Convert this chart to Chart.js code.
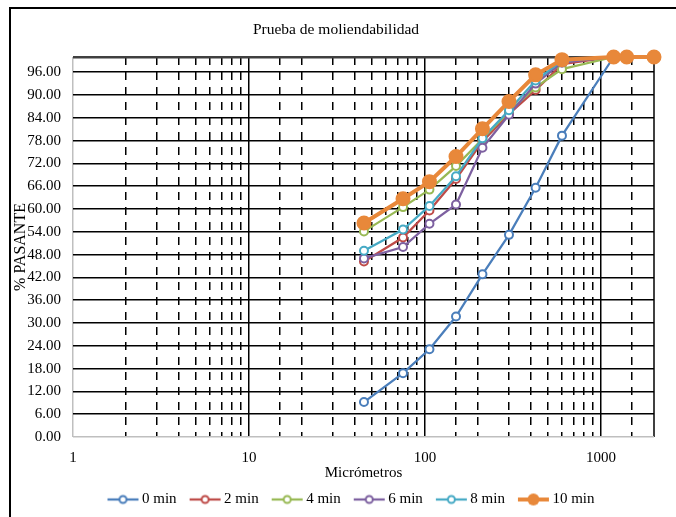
<!DOCTYPE html>
<html>
<head>
<meta charset="utf-8">
<script src="https://cdn.jsdelivr.net/npm/chart.js@4"></script>
<style>
  body { margin: 0; background: #fff; }
  #wrap { width: 676px; height: 517px; }
</style>
</head>
<body>
<div id="wrap"><canvas id="grafico" width="676" height="517"></canvas></div>
<script>
// tamaños de malla (micrómetros) y % pasante por tiempo de molienda
const micrones = [45, 75, 106, 150, 212, 300, 425, 600, 1180, 1400, 2000];
const min0  = [9.2, 16.8, 23.1, 31.7, 42.8, 53.2, 65.6, 79.3, 100, 100, 100];
const min2  = [46.2, 52.5, 59.6, 67.9, 77.8, 85.0, 91.3, 98.1, 100, 100, 100];
const min4  = [54.1, 60.5, 65.1, 71.3, 78.4, 85.6, 92.0, 96.8, 100, 100, 100];
const min6  = [47.0, 50.0, 56.1, 61.2, 76.1, 84.8, 93.0, 98.5, 100, 100, 100];
const min8  = [49.0, 54.6, 60.8, 68.6, 78.6, 86.0, 93.8, 99.0, 100, 100, 100];
const min10 = [56.3, 62.7, 67.2, 73.8, 81.1, 88.3, 95.3, 99.3, 100, 100, 100];
const series = ['0 min', '2 min', '4 min', '6 min', '8 min', '10 min'];
const yTicks = [0, 6, 12, 18, 24, 30, 36, 42, 48, 54, 60, 66, 72, 78, 84, 90, 96];

const valores = [min0, min2, min4, min6, min8, min10];
const colores = ['#4A7EBB', '#BE4B48', '#98B954', '#7D60A0', '#46AAC5', '#E8883A'];
const fuente = 'Liberation Serif, Times New Roman, serif';

// símbolo de leyenda: línea con marcador, corrido a la derecha para pegarlo al texto
function simbolo(color, grueso) {
  const c = document.createElement('canvas');
  c.width = 44; c.height = 16;
  const g = c.getContext('2d');
  const x0 = 11, x1 = 42, xm = (x0 + x1) / 2;
  g.strokeStyle = color;
  g.lineWidth = grueso ? 4 : 2.25;
  g.beginPath(); g.moveTo(x0, 8); g.lineTo(x1, 8); g.stroke();
  g.beginPath(); g.arc(xm, 8, grueso ? 6 : 3.5, 0, Math.PI * 2);
  if (grueso) { g.fillStyle = color; g.fill(); }
  else { g.fillStyle = '#fff'; g.fill(); g.lineWidth = 2; g.stroke(); }
  return c;
}

const esDecada = v => Math.abs(Math.log10(v) - Math.round(Math.log10(v))) < 1e-9;

const datasets = series.map((nombre, i) => {
  const grueso = i === 5;
  return {
    label: nombre,
    data: micrones.map((x, j) => ({ x: x, y: valores[i][j] })),
    borderColor: colores[i],
    backgroundColor: grueso ? colores[i] : '#fff',
    pointBorderColor: colores[i],
    pointBackgroundColor: grueso ? colores[i] : '#fff',
    borderWidth: grueso ? 4 : 2.25,
    pointRadius: grueso ? 6.5 : 4,
    pointBorderWidth: 2,
    pointStyle: 'circle',
    tension: 0,
    clip: false,
    order: 5 - i,
    legendSymbol: simbolo(colores[i], grueso)
  };
});

const extras = {
  id: 'extras',
  afterLayout(chart) {
    // centrar título y leyenda como en la hoja original
    chart.titleBlock.right = 672;
    chart.legend.left = 43;
  },
  beforeDraw(chart) {
    const g = chart.ctx;
    g.save();
    g.fillStyle = '#fff';
    g.fillRect(0, 0, chart.width, chart.height);
    g.strokeStyle = '#000';
    g.lineWidth = 2;
    g.beginPath();
    g.moveTo(10, chart.height); g.lineTo(10, 8); g.lineTo(chart.width, 8);
    g.stroke();
    g.restore();
  },
  afterDraw(chart) {
    const g = chart.ctx;
    g.save();
    g.translate(21, 247);
    g.rotate(-Math.PI / 2);
    g.font = '16px ' + fuente;
    g.fillStyle = '#000';
    g.textAlign = 'center';
    g.textBaseline = 'middle';
    g.fillText('% PASANTE', 0, 0);
    g.restore();
  }
};

new Chart(document.getElementById('grafico'), {
  type: 'line',
  data: { datasets: datasets },
  plugins: [extras],
  options: {
    responsive: false,
    animation: false,
    layout: { padding: { left: 0, right: 22, top: 0, bottom: 0 } },
    plugins: {
      title: {
        display: true,
        text: 'Prueba de moliendabilidad',
        color: '#000',
        font: { family: fuente, size: 15.5, weight: 'normal' },
        padding: { top: 21, bottom: 17.4 }
      },
      legend: {
        position: 'bottom',
        labels: {
          color: '#000',
          font: { family: fuente, size: 15 },
          usePointStyle: true,
          pointStyleWidth: 32,
          padding: 8,
          sort: (a, b) => a.datasetIndex - b.datasetIndex,
          generateLabels: chart => chart.data.datasets.map((ds, i) => ({
            text: ds.label,
            datasetIndex: i,
            pointStyle: ds.legendSymbol,
            fillStyle: ds.borderColor,
            strokeStyle: ds.borderColor,
            fontColor: '#000',
            lineWidth: 0,
            hidden: false
          }))
        }
      },
      tooltip: { enabled: false }
    },
    scales: {
      x: {
        type: 'logarithmic',
        min: 1,
        max: 2000,
        afterFit: s => { s.height = 47; },
        title: {
          display: true,
          text: 'Micrómetros',
          color: '#000',
          font: { family: fuente, size: 15 },
          padding: { top: 0, bottom: 2 }
        },
        ticks: {
          autoSkip: false,
          maxRotation: 0,
          color: '#000',
          padding: 12,
          font: { family: fuente, size: 15 },
          callback: v => esDecada(v) ? String(v) : ''
        },
        grid: {
          drawTicks: false,
          color: c => c.tick.value === 1 ? '#BFBFBF' : (c.tick.value === 2000 ? '#404040' : '#000'),
          lineWidth: c => c.tick.value === 2000 ? 2 : 1.5
        },
        border: {
          display: false,
          dash: c => (esDecada(c.tick.value) || c.tick.value === 2000) ? [] : [8, 7]
        }
      },
      y: {
        min: 0,
        max: 100,
        afterFit: s => { s.width = 73; },
        afterBuildTicks: s => { s.ticks = yTicks.concat([100]).map(v => ({ value: v })); },
        ticks: {
          color: '#000',
          padding: 12,
          font: { family: fuente, size: 15 },
          callback: v => v === 100 ? '' : v.toFixed(2)
        },
        grid: {
          drawTicks: false,
          color: c => c.tick.value === 0 ? '#BFBFBF' : (c.tick.value === 100 ? '#404040' : '#000'),
          lineWidth: c => c.tick.value === 100 ? 2.5 : 1.5
        },
        border: { display: false }
      }
    }
  }
});
</script>
</body>
</html>
